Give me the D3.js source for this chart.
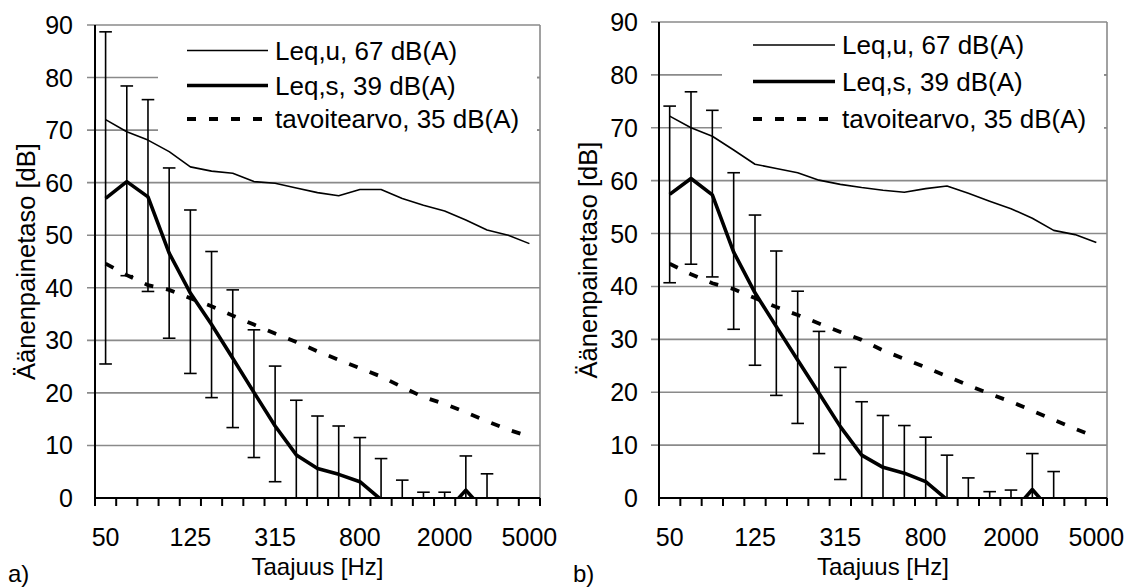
<!DOCTYPE html>
<html>
<head>
<meta charset="utf-8">
<script src="https://cdn.jsdelivr.net/npm/d3@7"></script>
<style>
  body { margin: 0; background: #fff; }
  text { font-family: "Liberation Sans", Arial, sans-serif; fill: #000; }
</style>
</head>
<body>
<svg id="chart" width="1130" height="587"></svg>
<script>
// 1/3 octave bands
const bands = ["50","63","80","100","125","160","200","250","315","400","500",
  "630","800","1000","1250","1600","2000","2500","3150","4000","5000"];
const tickBands = ["50","125","315","800","2000","5000"];
const yTicks = [0,10,20,30,40,50,60,70,80,90];
const legendLabels = ["Leq,u, 67 dB(A)", "Leq,s, 39 dB(A)", "tavoitearvo, 35 dB(A)"];

// panel a)  (values below 0 are cut off by the axis)
const leqUA = [72.0,69.7,68.1,65.9,63.0,62.2,61.8,60.2,59.9,59.0,58.1,57.5,58.7,58.7,57.0,55.7,54.6,52.9,51.0,50.0,48.4];
const leqSA = [57.0,60.2,57.3,46.6,39.0,33.0,26.6,20.1,13.7,8.2,5.6,4.5,3.1,-0.3,-5,-5,-3,1.5,-3,-5,-5];
const errHiA = [88.7,78.4,75.8,62.8,54.8,46.9,39.6,32.0,25.1,18.6,15.6,13.7,11.5,7.5,3.4,1.1,1.1,8.0,4.6,null,null];
const errLoA = [25.5,42.3,39.3,30.4,23.7,19.1,13.4,7.7,3.1,-2.2,-4.4,-4.7,-5.3,-7.5,-3.4,-1.1,-1.1,-5.0,-4.6,null,null];
const targetA = [44.6,42.4,40.5,39.6,38.0,36.5,34.7,33.0,31.3,29.7,27.9,26.3,24.7,23.1,21.1,19.2,17.9,16.3,14.6,13.0,11.7];

// panel b)
const leqUB = [72.2,70.0,68.4,65.8,63.1,62.3,61.5,60.1,59.3,58.7,58.2,57.8,58.5,59.0,57.6,56.1,54.7,52.9,50.6,49.8,48.3];
const leqSB = [57.4,60.4,57.3,46.5,38.8,32.4,26.1,19.8,13.5,8.1,5.8,4.7,3.1,-0.3,-5,-5,-3,1.6,-3,-5,-5];
const errHiB = [74.1,76.8,73.3,61.5,53.5,46.7,39.1,31.5,24.7,18.2,15.6,13.7,11.5,8.1,3.8,1.2,1.5,8.4,5.0,null,null];
const errLoB = [40.7,44.2,41.8,31.9,25.1,19.4,14.1,8.4,3.5,-2.0,-4.0,-4.3,-5.3,-8.1,-3.8,-1.2,-1.5,-5.2,-5.0,null,null];
const targetB = [44.3,42.3,40.6,39.5,37.8,36.1,34.6,33.0,31.4,29.9,27.9,26.3,24.7,23.0,21.3,19.7,18.2,16.5,14.8,13.1,11.5];

const svg = d3.select("#chart");

function drawPanel(p) {
  let g = svg.append("g");
  let xScale = d3.scaleBand().domain(bands).range([p.left, p.right]).padding(0);
  let yScale = d3.scaleLinear().domain([0, 90]).range([p.bottom, p.top]);
  let cx = b => xScale(b) + xScale.bandwidth() / 2;

  let clipId = "clip" + p.name;
  svg.append("clipPath").attr("id", clipId).append("rect")
    .attr("x", p.left).attr("y", p.top - 10)
    .attr("width", p.right - p.left + 10).attr("height", p.bottom - p.top + 10);

  // gridlines (gray), extending left as tick marks
  g.selectAll(".grid").data(yTicks.filter(d => d > 0)).enter().append("line")
    .attr("x1", p.left - 8).attr("x2", p.right)
    .attr("y1", d => yScale(d)).attr("y2", d => yScale(d))
    .attr("stroke", "#8a8a8a").attr("stroke-width", 1.6);
  g.append("line")
    .attr("x1", p.right).attr("x2", p.right)
    .attr("y1", yScale(90)).attr("y2", yScale(0))
    .attr("stroke", "#8a8a8a").attr("stroke-width", 1.6);

  // legend background hides gridlines
  g.append("rect").attr("x", p.legBg[0]).attr("y", p.legBg[1])
    .attr("width", p.legBg[2]).attr("height", p.legBg[3]).attr("fill", "#fff");
  // small tick stubs at right edge
  g.selectAll(".stub").data([70, 80]).enter().append("line")
    .attr("x1", p.right - 3).attr("x2", p.right)
    .attr("y1", d => yScale(d)).attr("y2", d => yScale(d))
    .attr("stroke", "#8a8a8a").attr("stroke-width", 1.6);

  // y tick labels
  g.selectAll(".ylab").data(yTicks).enter().append("text")
    .attr("x", p.yLabelRight).attr("y", d => yScale(d) + 9)
    .attr("text-anchor", "end").style("font-size", "25px")
    .text(d => d);

  // x axis ticks at band boundaries
  let bounds = bands.map(b => xScale(b)).concat([p.right]);
  g.selectAll(".xtick").data(bounds).enter().append("line")
    .attr("x1", d => d).attr("x2", d => d)
    .attr("y1", p.bottom).attr("y2", p.bottom + 8)
    .attr("stroke", "#000").attr("stroke-width", 2);
  g.selectAll(".xlab").data(tickBands).enter().append("text")
    .attr("x", d => cx(d)).attr("y", 546)
    .attr("text-anchor", "middle").style("font-size", "25px")
    .text(d => d);

  // error bars
  let eb = bands.map((b, i) => ({b: b, hi: p.errHi[i], lo: p.errLo[i]})).filter(d => d.hi !== null);
  let ebG = g.append("g").attr("clip-path", "url(#" + clipId + ")");
  ebG.selectAll(".ev").data(eb).enter().append("line")
    .attr("x1", d => cx(d.b)).attr("x2", d => cx(d.b))
    .attr("y1", d => yScale(d.hi)).attr("y2", d => yScale(d.lo))
    .attr("stroke", "#000").attr("stroke-width", 1.6);
  ebG.selectAll(".eh").data(eb).enter().append("line")
    .attr("x1", d => cx(d.b) - 6.3).attr("x2", d => cx(d.b) + 6.3)
    .attr("y1", d => yScale(d.hi)).attr("y2", d => yScale(d.hi))
    .attr("stroke", "#000").attr("stroke-width", 1.6);
  ebG.selectAll(".el").data(eb).enter().append("line")
    .attr("x1", d => cx(d.b) - 6.3).attr("x2", d => cx(d.b) + 6.3)
    .attr("y1", d => yScale(d.lo)).attr("y2", d => yScale(d.lo))
    .attr("stroke", "#000").attr("stroke-width", 1.6);

  // series lines
  let line = d3.line().x((d, i) => cx(bands[i])).y(d => yScale(d));
  let lg = g.append("g").attr("clip-path", "url(#" + clipId + ")");
  lg.append("path").attr("d", line(p.target)).attr("fill", "none")
    .attr("stroke", "#000").attr("stroke-width", 3.8).attr("stroke-dasharray", "9,13");
  lg.append("path").attr("d", line(p.leqU)).attr("fill", "none")
    .attr("stroke", "#000").attr("stroke-width", 1.6).attr("stroke-linejoin", "round");
  lg.append("path").attr("d", line(p.leqS)).attr("fill", "none")
    .attr("stroke", "#000").attr("stroke-width", 3.6).attr("stroke-linejoin", "round");

  // axes
  g.append("line").attr("x1", p.left).attr("x2", p.right)
    .attr("y1", p.bottom).attr("y2", p.bottom).attr("stroke", "#000").attr("stroke-width", 2);
  g.append("line").attr("x1", p.left).attr("x2", p.left)
    .attr("y1", p.top).attr("y2", p.bottom).attr("stroke", "#000").attr("stroke-width", 2);

  // legend
  let styles = [{w: 1.6, dash: null}, {w: 3.6, dash: null}, {w: 3.8, dash: "9,13"}];
  legendLabels.forEach((lab, i) => {
    g.append("line").attr("x1", p.legLine[0]).attr("x2", p.legLine[1])
      .attr("y1", p.legRows[i]).attr("y2", p.legRows[i])
      .attr("stroke", "#000").attr("stroke-width", styles[i].w)
      .attr("stroke-dasharray", styles[i].dash);
    g.append("text").attr("x", p.legText).attr("y", p.legRows[i] + 9)
      .style("font-size", "26px").text(lab);
  });

  // axis titles
  g.append("text").attr("transform", "translate(" + p.yTitleX + "," + ((p.top + p.bottom) / 2) + ") rotate(-90)")
    .attr("text-anchor", "middle").style("font-size", "25.5px").text("Äänenpainetaso [dB]");
  g.append("text").attr("x", (p.left + p.right) / 2).attr("y", 575)
    .attr("text-anchor", "middle").style("font-size", "24px").text("Taajuus [Hz]");
  g.append("text").attr("x", p.labelX).attr("y", 582)
    .style("font-size", "24px").text(p.name + ")");
}

drawPanel({
  name: "a", left: 95, right: 540, top: 25, bottom: 498,
  yLabelRight: 73, yTitleX: 35, labelX: 8,
  legBg: [158, 30, 379, 115], legLine: [187, 268], legText: 275, legRows: [50.5, 85.5, 119],
  leqU: leqUA, leqS: leqSA, errHi: errHiA, errLo: errLoA, target: targetA
});
drawPanel({
  name: "b", left: 659, right: 1107, top: 22, bottom: 498,
  yLabelRight: 638, yTitleX: 597, labelX: 573,
  legBg: [722, 26, 382, 119], legLine: [753, 835], legText: 842, legRows: [45, 81.5, 119],
  leqU: leqUB, leqS: leqSB, errHi: errHiB, errLo: errLoB, target: targetB
});
</script>
</body>
</html>
